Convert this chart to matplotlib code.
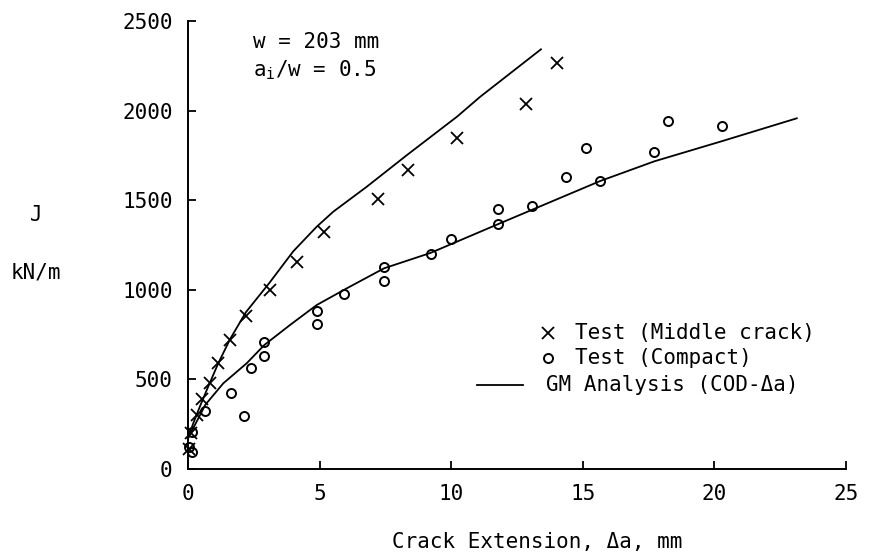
import matplotlib
matplotlib.use('Agg')
import matplotlib.pyplot as plt

# Test data, middle crack specimens
mid_x = [0.02, 0.12, 0.33, 0.52, 0.84, 1.15, 1.60, 2.19, 3.12, 4.13, 5.17, 7.2, 8.34, 10.22, 12.85, 14.02]
mid_j = [110, 200, 301, 391, 478, 590, 720, 855, 999, 1157, 1324, 1505, 1669, 1845, 2038, 2264]

# Test data, compact specimens
cmp_x = [0.14, 0.05, 0.14, 0.65, 2.14, 1.63, 2.38, 2.90, 2.90, 4.89, 4.89, 5.91, 7.45, 7.45,
         9.22, 9.99, 11.79, 11.79, 13.08, 14.35, 15.66, 15.12, 17.72, 18.24, 20.30]
cmp_j = [97, 124, 208, 325, 296, 426, 565, 631, 710, 809, 882, 975, 1051, 1129,
         1197, 1282, 1367, 1449, 1465, 1628, 1607, 1792, 1768, 1940, 1916]

# GM analysis curves
gm_mid_x = [0, 0.2, 0.45, 0.71, 1.15, 1.60, 2.2, 3.1, 4.0, 4.89, 5.52, 6.79, 8.32, 10.22, 11.1, 13.41]
gm_mid_j = [170, 255, 348, 440, 590, 725, 875, 1040, 1215, 1352, 1436, 1575, 1752, 1966, 2077, 2342]
gm_cmp_x = [0, 0.65, 1.34, 2.23, 2.90, 3.88, 4.89, 6.03, 7.45, 9.2, 11.79, 15.66, 17.72, 20.3, 23.13]
gm_cmp_j = [170, 357, 478, 590, 692, 804, 915, 1008, 1120, 1205, 1367, 1607, 1717, 1830, 1957]

xticks = [0, 5, 10, 15, 20, 25]
yticks = [0, 500, 1000, 1500, 2000, 2500]

plt.rcParams['font.family'] = ['DejaVu Sans Mono', 'DejaVu Sans']
plt.rcParams['mathtext.fontset'] = 'custom'
plt.rcParams['mathtext.rm'] = 'DejaVu Sans Mono'
plt.rcParams['mathtext.default'] = 'regular'
FS = 15

W, H = 896, 555
fig = plt.figure(figsize=(W / 100, H / 100), dpi=100)
ax = fig.add_axes([188 / W, 1 - 469 / H, (846 - 188) / W, (469 - 21) / H])


def px(x, y):
    return x / W, 1 - y / H


ax.plot(gm_mid_x, gm_mid_j, color='black', lw=1.3)
ax.plot(gm_cmp_x, gm_cmp_j, color='black', lw=1.3)
ax.plot(mid_x, mid_j, 'x', color='black', ms=8, mew=1.3, clip_on=False)
ax.plot(cmp_x, cmp_j, 'o', color='black', mfc='none', ms=6.5, mew=1.4, clip_on=False)

ax.set_xlim(0, 25)
ax.set_ylim(0, 2500)
ax.set_xticks(xticks)
ax.set_yticks(yticks)
ax.tick_params(direction='in', length=6, width=1.3, labelsize=FS, pad=11)
for s in ['top', 'right']:
    ax.spines[s].set_visible(False)
for s in ['left', 'bottom']:
    ax.spines[s].set_linewidth(1.4)

ax.text(2.47, 2383, 'w = 203 mm', fontsize=FS, va='center', ha='left')
ax.text(2.47, 2227, 'a$_{i}$/w = 0.5', fontsize=FS, va='center', ha='left')

# axis labels
fig.text(*px(36, 215), 'J', fontsize=FS, ha='center', va='center')
fig.text(*px(36, 272), 'kN/m', fontsize=FS, ha='center', va='center')
fig.text(*px(537, 542), 'Crack Extension, \u0394a, mm', fontsize=FS, ha='center', va='center')

# legend drawn as lines of text
ax.plot(*px(548, 333), 'x', color='black', ms=8, mew=1.3, transform=fig.transFigure, clip_on=False)
ax.plot(*px(548, 358), 'o', color='black', mfc='none', ms=6.5, mew=1.4, transform=fig.transFigure, clip_on=False)
ax.plot([477 / W, 523 / W], [1 - 385 / H] * 2, color='black', lw=1.3, transform=fig.transFigure, clip_on=False)
fig.text(*px(575, 333), 'Test (Middle crack)', fontsize=FS, ha='left', va='center')
fig.text(*px(575, 358), 'Test (Compact)', fontsize=FS, ha='left', va='center')
fig.text(*px(546, 385), 'GM Analysis (COD-\u0394a)', fontsize=FS, ha='left', va='center')

fig.savefig('out.png', dpi=100)
